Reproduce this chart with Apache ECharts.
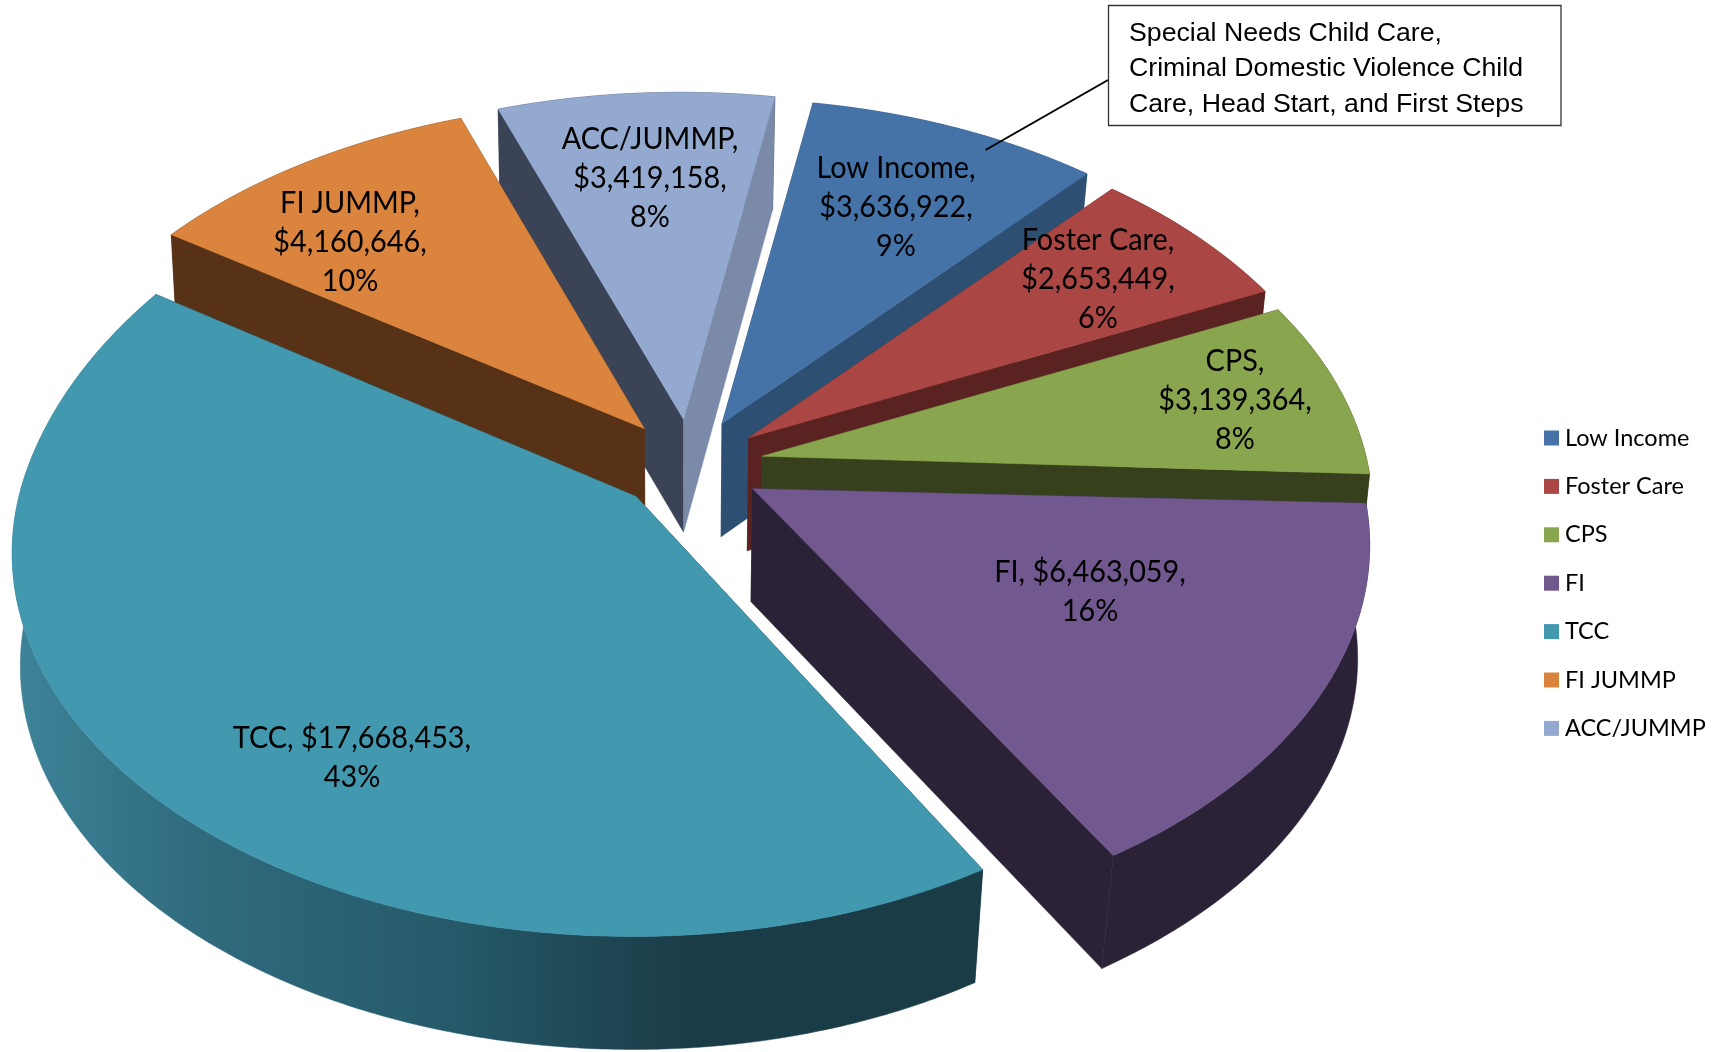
<!DOCTYPE html>
<html><head><meta charset="utf-8">
<style>html,body{margin:0;padding:0;background:#fff}#c{width:1725px;height:1052px}</style>
<script src="https://cdn.jsdelivr.net/npm/echarts@6/dist/echarts.min.js"></script>
</head><body><div id="c"></div>
<script>
// ---- data ----
const categories = ['Low Income','Foster Care','CPS','FI','TCC','FI JUMMP','ACC/JUMMP'];
const amounts    = [3636922,2653449,3139364,6463059,17668453,4160646,3419158];
const labelBreaksAfterName = [true,true,true,false,false,true,true];

// ---- styles ----
const topColors   = ['#4572A7','#AA4643','#89A54E','#71588F','#4198AF','#DB843D','#93A9CF'];
const startWall   = ['#2D5072','#5A2220','#37401C','#2B2238','#1A3C47','#573216','#3B4356'];
const endWall     = ['#2D5072','#5A2220','#37401C','#2B2238','#1A3C47','#573216','#7A8AA8'];
const tccWall = {type:'linear',x:13,y:0,x2:980,y2:0,global:true,colorStops:[
  {offset:0,color:'#3E8398'},{offset:0.2,color:'#2F6A7D'},{offset:0.45,color:'#265A6A'},
  {offset:0.7,color:'#1A3C47'},{offset:1,color:'#1A3C47'}]};
const arcWall     = [startWall[0],startWall[1],startWall[2],startWall[3],tccWall,startWall[5],startWall[6]];

// ---- layout / projection of the 3-D pie ----
const drawOrder = [6,0,1,2,3,5,4];               // back to front
const firstAngle = 10.2;                          // degrees clockwise from the far point
const centre = {x:689.6,y:465};
const pull = {x:73.6,y:46};                       // explosion distance on screen
const radius = {x:613.7,y:375}, persp = 0.1474, rimShift = -3.5;  // perspective of the disc
const depth = 113, leanLeft = 0.012, leanRight = 0.027, leanCap = 12;
const angleNudge  = [0,0,0,-0.5,0.9,0.2,0];       // small per-slice camera rotation
const radialNudge = [0.995,0.99,0.99,1,1,1,1];
const endFlare    = [0,0,0,0,0.025,0,0];          // rim widening towards a slice's last edge
const labelCentres = [[896,207],[1098,279],[1235,400],[1090,591],[352,757],[350,242],[650,178]];

const total = amounts.reduce((a,b)=>a+b,0);
const rad = d => d*Math.PI/180;
const money = v => '$'+v.toLocaleString('en-US');

function sliceAngles(i){
  let a = firstAngle;
  for(let k=0;k<i;k++) a += amounts[k]/total*360;
  return [a, a+amounts[i]/total*360];
}
function rim(a){
  const X=Math.sin(rad(a)), Y=-Math.cos(rad(a)), s=1/(1-persp*Y);
  return [radius.x*X*s+rimShift, radius.y*Y*s];
}
const drop = p => {
  const dx=p[0]-centre.x;
  return [p[0]-(dx<0?leanLeft*dx:Math.min(leanRight*dx,leanCap)), p[1]+depth];
};

function renderSlice(params, api){
  const i = api.value(0);
  const [a0,a1] = sliceAngles(i);
  const mid=(a0+a1)/2;
  const apex=[centre.x+pull.x*Math.sin(rad(mid)), centre.y-pull.y*Math.cos(rad(mid))];
  const arc=[];
  const steps=Math.ceil(a1-a0)*2;
  for(let t=0;t<=steps;t++){
    const f=t/steps;
    const r=rim(a0+angleNudge[i]+(a1-a0)*f);
    const flare=1+endFlare[i]*Math.pow(Math.max(0,(f-0.8)/0.2),2);
    const q=radialNudge[i]*flare;
    arc.push([apex[0]+r[0]*q,apex[1]+r[1]*q]);
  }
  const first=arc[0], last=arc[arc.length-1];
  const poly=(points,fill)=>({type:'polygon',shape:{points},style:{fill,stroke:fill,lineWidth:0.5}});
  return {type:'group',silent:true,children:[
    poly(arc.concat(arc.map(drop).reverse()),arcWall[i]),
    poly([apex,first,drop(first),drop(apex)],startWall[i]),
    poly([apex,last,drop(last),drop(apex)],endWall[i]),
    poly([apex].concat(arc),topColors[i])
  ]};
}
function renderLabel(params, api){
  const i=api.value(0);
  const pct=Math.round(amounts[i]/total*100)+'%';
  const text=labelBreaksAfterName[i]
    ? categories[i]+',\n'+money(amounts[i])+',\n'+pct
    : categories[i]+', '+money(amounts[i])+',\n'+pct;
  return {type:'text',silent:true,x:labelCentres[i][0],y:labelCentres[i][1],scaleX:0.93,
    style:{text,fill:'#000',font:'31px Lato',align:'center',verticalAlign:'middle',lineHeight:39}};
}

const series = drawOrder.map((i,n)=>({
  type:'custom',name:categories[i],coordinateSystem:'none',z:n+1,
  itemStyle:{color:topColors[i]},renderItem:renderSlice,
  data:[[i,amounts[i]]],silent:true,animation:false
}));
series.push({type:'custom',name:'labels',coordinateSystem:'none',z:20,renderItem:renderLabel,
  data:categories.map((c,i)=>[i,amounts[i]]),silent:true,animation:false});

const chart=echarts.init(document.getElementById('c'),null,{renderer:'canvas'});
chart.setOption({
  backgroundColor:'#fff',animation:false,
  legend:{
    data:categories.map((name,i)=>({name,icon:'rect',itemStyle:{color:topColors[i]}})),
    orient:'vertical',left:1544,top:426,padding:0,itemWidth:15,itemHeight:15,itemGap:24.4,
    selectedMode:false,
    textStyle:{fontFamily:'Lato',fontSize:23.5,color:'#000',height:15,lineHeight:15,padding:[0,0,0,1]}
  },
  series,
  graphic:[
    {type:'line',z:30,silent:true,shape:{x1:1108,y1:80,x2:985.5,y2:150},style:{stroke:'#000',lineWidth:2}},
    {type:'rect',z:30,silent:true,shape:{x:1108.5,y:5.5,width:452.5,height:120},style:{fill:'#fff',stroke:'#333',lineWidth:1.3}},
    {type:'text',z:31,silent:true,x:1129,y:33.5,style:{text:'Special Needs Child Care,',font:'26.7px "Liberation Sans"',fill:'#000',verticalAlign:'middle'}},
    {type:'text',z:31,silent:true,x:1129,y:68.5,style:{text:'Criminal Domestic Violence Child',font:'26.7px "Liberation Sans"',fill:'#000',verticalAlign:'middle'}},
    {type:'text',z:31,silent:true,x:1129,y:104.5,style:{text:'Care, Head Start, and First Steps',font:'26.7px "Liberation Sans"',fill:'#000',verticalAlign:'middle'}}
  ]
});
</script></body></html>
